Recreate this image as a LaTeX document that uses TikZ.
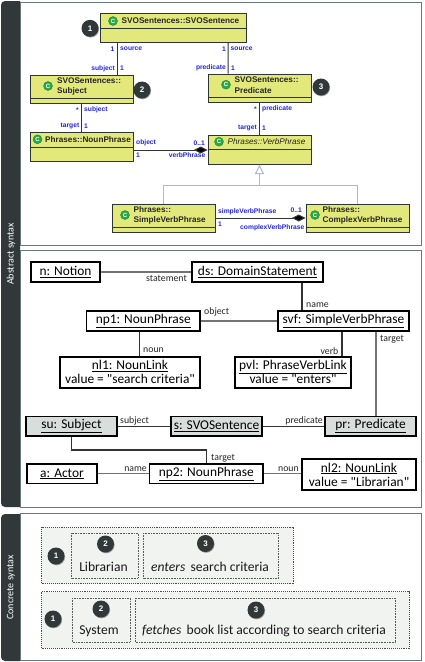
\documentclass[tikz,border=0pt]{standalone}
\usepackage{fontspec}
\setmainfont{Carlito}[Ligatures=TeXOff]
\newfontfamily\umlfont{Liberation Sans}
\usepackage{xcolor}
\usetikzlibrary{arrows.meta, calc, shadows}
\definecolor{sidedark}{RGB}{48,56,58}
\definecolor{panelline}{RGB}{105,120,120}
\definecolor{classyellow}{RGB}{226,232,122}
\definecolor{classline}{RGB}{45,55,50}
\definecolor{iconmark}{RGB}{40,170,70}
\definecolor{rolablue}{RGB}{35,35,225}
\definecolor{genblue}{RGB}{170,185,215}
\definecolor{objgray}{RGB}{216,222,220}
\definecolor{syntaxgray}{RGB}{241,243,241}
\tikzset{
  panel/.style={draw=panelline, fill=white, line width=1pt},
  sidelabel/.style={rotate=90, text=white, font=\fontsize{10}{11}\selectfont, inner sep=0pt},
  umlclass/.style={draw=classline, fill=classyellow, line width=1pt, minimum width=103pt, inner sep=0pt},
  classrule/.style={draw=classline, line width=1pt},
  classtitle/.style={anchor=west, align=left, inner sep=0pt, font=\umlfont\bfseries\fontsize{8.2}{10.5}\selectfont, text=black!85},
  icon/.style={circle, fill=iconmark, draw=iconmark!70!black, line width=0.3pt, minimum size=9pt, inner sep=0pt, text=white, font=\umlfont\bfseries\fontsize{6}{6}\selectfont},
  num/.style={circle, fill=sidedark, minimum size=17pt, inner sep=0pt, text=white, font=\umlfont\bfseries\fontsize{8}{9}\selectfont,
    drop shadow={shadow xshift=0.6pt, shadow yshift=-0.8pt, opacity=0.35, fill=black}},
  role/.style={inner sep=0pt, text=rolablue, font=\umlfont\bfseries\fontsize{6.7}{7}\selectfont},
  assoc/.style={draw=classline, line width=1pt},
  compo/.style={assoc, {Diamond[length=13.5pt,width=7pt,fill=black]}-},
  gen/.style={draw=genblue, line width=1pt, -{Triangle[open,length=9.5pt,width=9pt,fill=white]}},
  objbox/.style={draw=black, fill=white, line width=1.5pt, inner sep=0pt, align=center, font=\fontsize{13.4}{14}\selectfont},
  objgrey/.style={objbox, fill=objgray},
  link/.style={draw=black!80, line width=1.1pt},
  linkgray/.style={draw=black!55, line width=1.2pt},
  linkname/.style={inner sep=0pt, font=\fontsize{9.8}{10}\selectfont, text=black!85},
  syntaxouter/.style={draw=black!70, densely dotted, line width=0.9pt, fill=syntaxgray},
  syntaxinner/.style={draw=black!65, densely dotted, line width=0.6pt, fill=syntaxgray},
  tokentext/.style={inner sep=0pt, font=\fontsize{13.6}{14}\selectfont, text=black!90},
}
\begin{document}
\begin{tikzpicture}[x=1pt,y=-1pt]
  \useasboundingbox (0,0) rectangle (425,662);
  % side bars
  \fill[sidedark] (20,1) [rounded corners=4pt] -- (1,1) -- (1,507) [sharp corners] -- (20,507) -- cycle;
  \fill[sidedark] (20,514) [rounded corners=4pt] -- (1,514) -- (1,661) [sharp corners] -- (20,661) -- cycle;
  \node[sidelabel] (abstractlabel) at (11,254) {Abstract syntax};
  \node[sidelabel] (concretelabel) at (11,587.5) {Concrete syntax};
  % panels
  \draw[panel] (20.5,2) rectangle (421,245);
  \draw[panel] (20.5,250.5) rectangle (421,507.5);
  \draw[panel] (20.5,513.5) rectangle (421,660.5);

  % metamodel classes
  \node[umlclass, minimum width=146.5pt, minimum height=29pt] (sentence) at (173.25,28) {};
  \node[umlclass, minimum height=28pt] (subject) at (81.5,89) {};
  \node[umlclass, minimum height=28pt] (predicate) at (259.5,88) {};
  \node[umlclass, minimum height=29pt] (nounphrase) at (81.5,146.5) {};
  \node[umlclass, minimum height=29pt] (verbphrase) at (259.5,149.5) {};
  \node[umlclass, minimum height=28pt] (simplevp) at (163.5,218) {};
  \node[umlclass, minimum height=28pt] (complexvp) at (357.5,218) {};
  \draw[classrule] ([yshift=14.5pt]sentence.south west) -- ([yshift=14.5pt]sentence.south east);
  \draw[classrule] ([yshift=5pt]subject.south west) -- ([yshift=5pt]subject.south east);
  \draw[classrule] ([yshift=5pt]predicate.south west) -- ([yshift=5pt]predicate.south east);
  \draw[classrule] ([yshift=14pt]nounphrase.south west) -- ([yshift=14pt]nounphrase.south east);
  \draw[classrule] ([yshift=15pt]verbphrase.south west) -- ([yshift=15pt]verbphrase.south east);
  \draw[classrule] ([yshift=5pt]simplevp.south west) -- ([yshift=5pt]simplevp.south east);
  \draw[classrule] ([yshift=5pt]complexvp.south west) -- ([yshift=5pt]complexvp.south east);

  \node[icon] (iconsentence) at (113,21) {C};
  \node[icon] (iconsubject) at (48,86) {C};
  \node[icon] (iconpredicate) at (226,84.7) {C};
  \node[icon] (iconnoun) at (37.5,139.3) {C};
  \node[icon] (iconverb) at (219,141.7) {C};
  \node[icon] (iconsimple) at (125,215) {C};
  \node[icon] (iconcomplex) at (315,215) {C};

  \node[classtitle] (titlesentence) at (121.5,21) {SVOSentences::SVOSentence};
  \node[classtitle] (titlesubject) at (57,86.5) {SVOSentences::\\Subject};
  \node[classtitle] (titlepredicate) at (234.5,85) {SVOSentences::\\Predicate};
  \node[classtitle] (titlenoun) at (45,139.5) {Phrases::NounPhrase};
  \node[classtitle, font=\umlfont\itshape\fontsize{8.2}{10.5}\selectfont] (titleverb) at (227.5,142) {Phrases::VerbPhrase};
  \node[classtitle] (titlesimple) at (133.5,215.5) {Phrases::\\SimpleVerbPhrase};
  \node[classtitle] (titlecomplex) at (322.5,215.5) {Phrases::\\ComplexVerbPhrase};

  % metamodel connectors
  \draw[assoc] ([xshift=-55.75pt]sentence.south) -- ([xshift=36pt]subject.north);
  \draw[assoc] ([xshift=55pt]sentence.south) -- ([xshift=-31.5pt]predicate.north);
  \draw[assoc] (subject.south) -- (nounphrase.north);
  \draw[assoc] (predicate.south) -- (verbphrase.north);
  \draw[compo] ([yshift=-0.5pt]verbphrase.west) -- ([yshift=-0.5pt]nounphrase.east |- verbphrase.west);
  \draw[compo] (complexvp.west) -- (simplevp.east);
  \coordinate (genjoint) at (259.5,185.7);
  \draw[gen] (simplevp.north) |- (genjoint) -- (verbphrase.south);
  \draw[gen, -] (complexvp.north) |- (genjoint);

  \node[role, anchor=east] (r1) at (114.5,49) {1};
  \node[role, anchor=west] (r2) at (120,49) {source};
  \node[role, anchor=east] (r3) at (115,68.5) {subject};
  \node[role, anchor=west] (r4) at (120,68.5) {1};
  \node[role, anchor=east] (r5) at (226,49) {1};
  \node[role, anchor=west] (r6) at (230.5,49) {source};
  \node[role, anchor=east] (r7) at (226,68) {predicate};
  \node[role, anchor=west] (r8) at (231,68) {1};
  \node[role, anchor=east] (r9) at (79,110) {*};
  \node[role, anchor=west] (r10) at (84,110) {subject};
  \node[role, anchor=east] (r11) at (79.5,126.5) {target};
  \node[role, anchor=west] (r12) at (84,126.5) {1};
  \node[role, anchor=east] (r13) at (257,109) {*};
  \node[role, anchor=west] (r14) at (262,109) {predicate};
  \node[role, anchor=east] (r15) at (257,128.5) {target};
  \node[role, anchor=west] (r16) at (262,128.5) {1};
  \node[role, anchor=west] (r17) at (136,143) {object};
  \node[role, anchor=east] (r18) at (205,143) {0..1};
  \node[role, anchor=west] (r19) at (136,155) {1};
  \node[role, anchor=east] (r20) at (205.5,155.5) {verbPhrase};
  \node[role, anchor=west] (r21) at (218,212) {simpleVerbPhrase};
  \node[role, anchor=east] (r22) at (302,210) {0..1};
  \node[role, anchor=west] (r23) at (218,224.5) {1};
  \node[role, anchor=east] (r24) at (304.5,228) {complexVerbPhrase};

  \node[num] (badgeone) at (90,28.3) {1};
  \node[num] (badgetwo) at (142,90) {2};
  \node[num] (badgethree) at (321,87) {3};

  % object diagram
  \node[objbox, minimum width=69pt, minimum height=20pt] (notion) at (65.5,272) {\underline{n: Notion}};
  \node[objbox, minimum width=131pt, minimum height=20pt] (domain) at (257.5,272) {\underline{ds: DomainStatement}};
  \node[objbox, minimum width=113.5pt, minimum height=20pt] (npone) at (143.25,321) {\underline{np1: NounPhrase}};
  \node[objbox, minimum width=131pt, minimum height=20pt] (svf) at (343.5,321) {\underline{svf: SimpleVerbPhrase}};
  \node[objbox, minimum width=140pt, minimum height=31pt] (nlone) at (130,372.3) {\underline{nl1: NounLink}\\value = "search criteria"};
  \node[objbox, minimum width=116pt, minimum height=31pt] (pvl) at (293,372.3) {\underline{pvl: PhraseVerbLink}\\value = "enters"};
  \node[objgrey, minimum width=91pt, minimum height=19.5pt] (su) at (71.5,426.3) {\underline{su: Subject}};
  \node[objgrey, minimum width=91pt, minimum height=19.5pt] (sent) at (216.5,426.3) {\underline{s: SVOSentence}};
  \node[objgrey, minimum width=91pt, minimum height=19.5pt] (pr) at (370.5,426.3) {\underline{pr: Predicate}};
  \node[objbox, minimum width=70pt, minimum height=19.5pt] (actor) at (62,473.8) {\underline{a: Actor}};
  \node[objbox, minimum width=113.5pt, minimum height=19.5pt] (nptwo) at (206.25,473.8) {\underline{np2: NounPhrase}};
  \node[objbox, minimum width=114pt, minimum height=31pt] (nltwo) at (359,474.5) {\underline{nl2: NounLink}\\value = "Librarian"};

  \draw[linkgray] (notion) -- (domain);
  \draw[link] ([xshift=44.5pt]domain.south) -- ([xshift=-41.5pt]svf.north);
  \draw[linkgray] (npone) -- (svf);
  \draw[link] ([xshift=-3.75pt]npone.south) -- ([xshift=9.5pt]nlone.north);
  \draw[link] ([xshift=-1.5pt]svf.south) -- ([xshift=49pt]pvl.north);
  \draw[linkgray] ([xshift=32.5pt]svf.south) -- ([xshift=5.5pt]pr.north);
  \draw[link] (su) -- (sent);
  \draw[link] (sent) -- (pr);
  \coordinate (subjtarget) at (71.5,450);
  \draw[link] (su.south) -- (subjtarget) -| (nptwo.north);
  \draw[linkgray] (actor) -- (nptwo);
  \draw[linkgray] (nptwo) -- (nptwo -| nltwo.west);

  \node[linkname, anchor=east] (namestatement) at (187,278.5) {statement};
  \node[linkname, anchor=west] (namename) at (306,305) {name};
  \node[linkname, anchor=west] (nameobject) at (204,312) {object};
  \node[linkname, anchor=west] (namenoun) at (143,350) {noun};
  \node[linkname, anchor=east] (nameverb) at (338.5,351) {verb};
  \node[linkname, anchor=west] (nametarget) at (380,339.5) {target};
  \node[linkname, anchor=west] (namesubject) at (120,421) {subject};
  \node[linkname, anchor=east] (namepredicate) at (323,421) {predicate};
  \node[linkname, anchor=west] (nametargettwo) at (211,458) {target};
  \node[linkname, anchor=east] (namenametwo) at (147,469) {name};
  \node[linkname, anchor=east] (namenountwo) at (299,469) {noun};

  % concrete sentences
  \draw[syntaxouter] (41,527) rectangle (293,583.5);
  \draw[syntaxouter] (41,591.5) rectangle (409,648);
  \draw[syntaxinner] (71.5,533) rectangle (138,578);
  \draw[syntaxinner] (143.5,533) rectangle (278.5,578);
  \draw[syntaxinner] (72,598) rectangle (130,642);
  \draw[syntaxinner] (135,598) rectangle (395,642);
  \node[num] (onefirst) at (56,556) {1};
  \node[num] (twofirst) at (105.5,544) {2};
  \node[num] (threefirst) at (205.5,543.5) {3};
  \node[num] (onesecond) at (53,619) {1};
  \node[num] (twosecond) at (101,609) {2};
  \node[num] (threesecond) at (256,610) {3};
  \node[tokentext] (librarian) at (103.5,566.5) {Librarian};
  \node[tokentext] (enters) at (210,566.5) {\textit{enters}\, search criteria};
  \node[tokentext] (system) at (99,631) {System};
  \node[tokentext] (fetches) at (264,631) {\textit{fetches}\, book list according to search criteria};
\end{tikzpicture}
\end{document}
